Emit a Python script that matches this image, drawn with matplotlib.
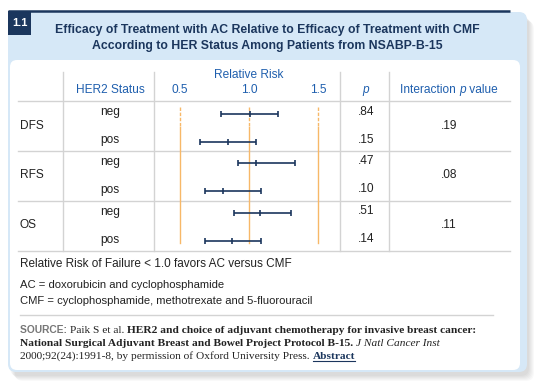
import matplotlib
matplotlib.use("Agg")
import matplotlib.pyplot as plt
from matplotlib.patches import FancyBboxPatch, Rectangle

# data
endpoints = ["DFS", "RFS", "OS"]
her2 = ["neg", "pos"]
rr = [1.01, 0.85, 1.05, 0.81, 1.08, 0.88]
ci_low = [0.80, 0.65, 0.92, 0.68, 0.89, 0.68]
ci_high = [1.21, 1.05, 1.33, 1.09, 1.30, 1.09]
p_vals = [".84", ".15", ".47", ".10", ".51", ".14"]
interaction_p = [".19", ".08", ".11"]
rr_ticks = [0.5, 1.0, 1.5]

SANS = "Liberation Sans"
SERIF = "Liberation Serif"
NAVY = "#1b365d"
BLUE = "#1f5fae"
TXT = "#222222"
GRID = "#d3d3d3"
ORANGE = "#f7b868"

fig = plt.figure(figsize=(5.4, 3.86), dpi=100)
bg = fig.add_axes([0, 0, 1, 1])
bg.set_xlim(0, 540)
bg.set_ylim(386, 0)
bg.axis("off")

# shadow
for i in range(6):
    bg.add_patch(FancyBboxPatch((10 + i, 16 + i), 519, 360, boxstyle="round,pad=0,rounding_size=8",
                                fc="black", ec="none", alpha=0.025))
# blue panel
bg.add_patch(FancyBboxPatch((8, 12), 519, 360, boxstyle="round,pad=0,rounding_size=8",
                            fc="#d6e8f7", ec="none"))
bg.plot([8, 510], [11, 11], color=NAVY, lw=1.8, solid_capstyle="butt")
bg.add_patch(Rectangle((8, 11), 23, 24, fc=NAVY, ec="none"))
bg.text(19.5, 23.5, "1.1", color="white", fontsize=8, fontweight="bold",
        ha="center", va="center", family=SANS)
# white inner panel
bg.add_patch(FancyBboxPatch((10, 60), 510, 310, boxstyle="round,pad=0,rounding_size=7",
                            fc="white", ec="none"))

bg.text(267, 30, "Efficacy of Treatment with AC Relative to Efficacy of Treatment with CMF",
        color=NAVY, fontsize=8.8, fontweight="bold", ha="center", va="center", family=SANS)
bg.text(267, 46, "According to HER Status Among Patients from NSABP-B-15",
        color=NAVY, fontsize=8.8, fontweight="bold", ha="center", va="center", family=SANS)

# table grid
for y in [100.7, 150.7, 200.7, 250.7]:
    bg.plot([18, 510], [y, y], color=GRID, lw=1.0)
for x in [63, 154, 340, 389]:
    bg.plot([x, x], [72, 250.7], color=GRID, lw=1.0)

fs = 8.6
bg.text(110, 90, "HER2 Status", color=BLUE, fontsize=fs, ha="center", va="center", family=SANS)
bg.text(366, 90, "p", color=BLUE, fontsize=fs, style="italic", ha="center", va="center", family=SANS)
t = bg.text(400, 90, "Interaction ", color=BLUE, fontsize=fs, ha="left", va="center", family=SANS)

group_y = [127.5, 177, 227]
row_y = []
for g, name in enumerate(endpoints):
    bg.text(20, group_y[g] - 1.5, name, color=TXT, fontsize=fs, ha="left", va="center", family=SANS)
    bg.text(449, group_y[g] - 1.5, interaction_p[g], color=TXT, fontsize=fs, ha="center", va="center", family=SANS)
    for k, status in enumerate(her2):
        y = group_y[g] + (-14 if k == 0 else 14)
        row_y.append(y)
        bg.text(110, y - 1.5, status, color=TXT, fontsize=fs, ha="center", va="center", family=SANS)
        bg.text(366, y - 1.5, p_vals[g * 2 + k], color=TXT, fontsize=fs, ha="center", va="center", family=SANS)

# forest plot axes
ax = fig.add_axes([154 / 540, 1 - 250.7 / 386, (340 - 154) / 540, (250.7 - 72) / 386])
ax.set_xlim(0.316, 1.656)
ax.set_ylim(250.7, 72)
ax.axis("off")
ax.patch.set_alpha(0)
for v in rr_ticks:
    ax.plot([v, v], [107, 127], color=ORANGE, lw=1.0, ls=(0, (2.5, 1.2)))
    ax.plot([v, v], [127, 243], color=ORANGE, lw=1.0)
    ax.text(v, 90, f"{v:.1f}", color=BLUE, fontsize=fs, ha="center", va="center", family=SANS)
ax.text(1.0, 75, "Relative Risk", color=BLUE, fontsize=fs, ha="center", va="center", family=SANS)
xerr = [[r - lo for r, lo in zip(rr, ci_low)], [hi - r for r, hi in zip(rr, ci_high)]]
ax.errorbar(rr, row_y, xerr=xerr, fmt="none", ecolor=NAVY, elinewidth=1.2, capsize=2.3, capthick=1.2)
ax.plot(rr, row_y, ls="none", marker="|", ms=4.6, mew=1.2, color=NAVY)

# footer
bg.text(20, 264, "Relative Risk of Failure < 1.0 favors AC versus CMF", color=TXT, fontsize=8.5,
        ha="left", va="center", family=SANS)
bg.text(20, 285, "AC = doxorubicin and cyclophosphamide", color=TXT, fontsize=8.1,
        ha="left", va="center", family=SANS)
bg.text(20, 301, "CMF = cyclophosphamide, methotrexate and 5-fluorouracil", color=TXT, fontsize=8.1,
        ha="left", va="center", family=SANS)
bg.plot([20, 493], [315, 315], color=GRID, lw=1.0)

fig.canvas.draw()
renderer = fig.canvas.get_renderer()


def run(x, y, pieces):
    for s, kw in pieces:
        tt = bg.text(x, y, s, ha="left", va="baseline", **kw)
        w = tt.get_window_extent(renderer).width
        if kw.get("color") == NAVY:
            bg.plot([x, x + w], [y + 1.8, y + 1.8], color=NAVY, lw=0.8)
        x += w


# place "p value" after "Interaction "
ext = t.get_window_extent(renderer)
tp = bg.text(400 + ext.width, 90, "p", color=BLUE, fontsize=fs, style="italic", ha="left", va="center", family=SANS)
ext2 = tp.get_window_extent(renderer)
bg.text(400 + ext.width + ext2.width, 90, " value", color=BLUE, fontsize=fs, ha="left", va="center", family=SANS)

sfs = 8.2
reg = dict(fontsize=sfs, family=SERIF, color=TXT)
bold = dict(fontsize=sfs, family=SERIF, color=TXT, fontweight="bold")
ital = dict(fontsize=sfs, family=SERIF, color=TXT, style="italic")
run(20, 333, [("SOURCE: ", dict(fontsize=7.4, family=SANS, color="#777777", fontweight="bold")),
              ("Paik S et al. ", reg),
              ("HER2 and choice of adjuvant chemotherapy for invasive breast cancer:", bold)])
run(20, 346, [("National Surgical Adjuvant Breast and Bowel Project Protocol B-15. ", bold),
              ("J Natl Cancer Inst", ital)])
run(20, 359, [("2000;92(24):1991-8, by permission of Oxford University Press. ", reg),
              ("Abstract", dict(fontsize=sfs, family=SERIF, color=NAVY, fontweight="bold"))])

fig.savefig("out.png", dpi=100)
